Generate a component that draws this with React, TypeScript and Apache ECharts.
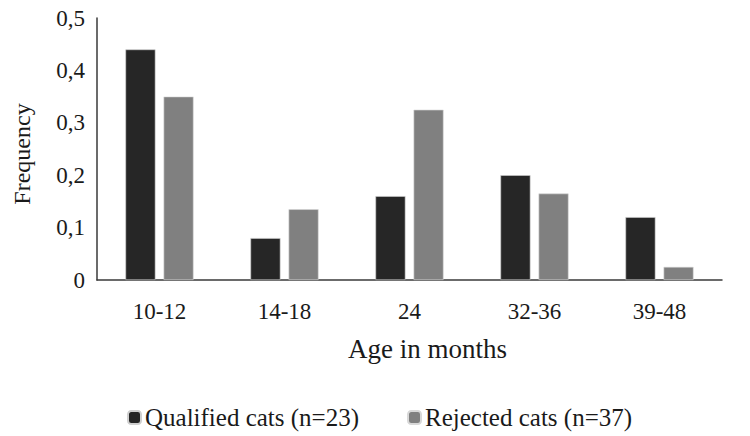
import React, { useEffect, useRef } from "react";
import * as echarts from "echarts";

const categories = ["10-12", "14-18", "24", "32-36", "39-48"];
const qualified = [0.44, 0.08, 0.16, 0.2, 0.12];
const rejected = [0.35, 0.135, 0.325, 0.165, 0.025];
const seriesNames = ["Qualified cats (n=23)", "Rejected cats (n=37)"];
const yTicks = { min: 0, max: 0.5, interval: 0.1 };

const FONT = "'Liberation Serif', 'Times New Roman', 'DejaVu Serif', serif";

export default function App() {
  const ref = useRef<HTMLDivElement>(null);
  useEffect(() => {
    if (!ref.current) return;
    const chart = echarts.init(ref.current, null, { renderer: "svg" });
    const legendText = { fontFamily: FONT, fontSize: 25, color: "#1a1a1a", padding: [0, 0, 0, -1] };
    chart.setOption({
      animation: false,
      backgroundColor: "#ffffff",
      textStyle: { fontFamily: FONT },
      grid: { left: 97, right: 28, top: 18, bottom: 156, containLabel: false },
      legend: [
        {
          data: [seriesNames[0]],
          left: 127,
          top: 405,
          padding: 0,
          itemWidth: 13,
          itemHeight: 13,
          itemGap: 4,
          textStyle: legendText,
        },
        {
          data: [seriesNames[1]],
          left: 407,
          top: 405,
          padding: 0,
          itemWidth: 13,
          itemHeight: 13,
          itemGap: 4,
          textStyle: legendText,
        },
      ],
      xAxis: {
        type: "category",
        data: categories,
        axisLine: { show: true, lineStyle: { color: "#3a3a3a", width: 1.5 } },
        axisTick: { show: false },
        axisLabel: { fontFamily: FONT, fontSize: 23, color: "#1a1a1a", margin: 20 },
        splitLine: { show: false },
      },
      yAxis: {
        type: "value",
        min: yTicks.min,
        max: yTicks.max,
        interval: yTicks.interval,
        name: "Frequency",
        nameLocation: "middle",
        nameGap: 63,
        nameTextStyle: { fontFamily: FONT, fontSize: 24, color: "#1a1a1a", padding: [0, 10, 0, 0] },
        axisLine: { show: true, lineStyle: { color: "#3a3a3a", width: 1.5 } },
        axisTick: { show: false },
        splitLine: { show: false },
        axisLabel: {
          fontFamily: FONT,
          fontSize: 23,
          color: "#1a1a1a",
          margin: 12,
          padding: [10, 0, 0, 0],
          formatter: (v: number) => (v === 0 ? "0" : v.toFixed(1).replace(".", ",")),
        },
      },
      graphic: [
        {
          type: "text",
          left: 348,
          top: 335,
          style: { text: "Age in months", fontFamily: FONT, fontSize: 27, fill: "#1a1a1a" },
        },
      ],
      series: [
        {
          name: seriesNames[0],
          type: "bar",
          data: qualified,
          barWidth: 30,
          barGap: "27%",
          itemStyle: { color: "#262626", borderColor: "#cfcfcf", borderWidth: 0.6 },
        },
        {
          name: seriesNames[1],
          type: "bar",
          data: rejected,
          barWidth: 30,
          barGap: "27%",
          itemStyle: { color: "#808080", borderColor: "#d8d8d8", borderWidth: 0.6 },
        },
      ],
    });
    return () => chart.dispose();
  }, []);
  return (
    <div
      ref={ref}
      style={{ position: "fixed", left: 0, top: 0, width: 750, height: 436 }}
    />
  );
}
